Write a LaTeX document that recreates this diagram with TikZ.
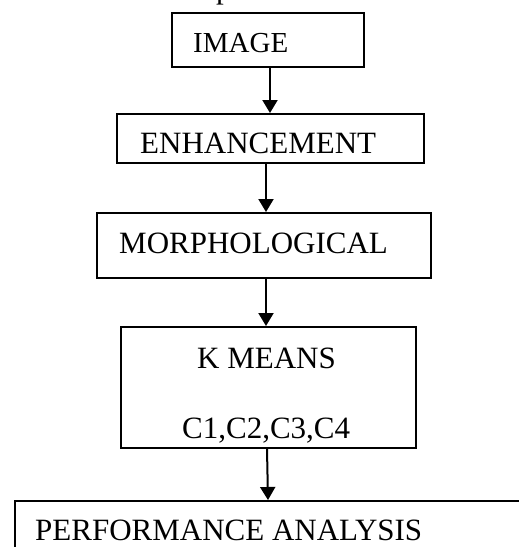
\documentclass[tikz,border=0pt]{standalone}
\usepackage{fontspec}
\setmainfont{Liberation Serif}
\usetikzlibrary{arrows.meta}
\begin{document}
\begin{tikzpicture}[x=1pt,y=-1pt,
  stagebox/.style={draw=black, line width=2pt, inner sep=0pt},
  lbl/.style={inner sep=0pt, anchor=base west, font=\fontsize{31}{36}\selectfont},
  arr/.style={line width=2pt, -{Triangle[width=15pt,length=13pt]}}]
\useasboundingbox (0,0) rectangle (519,547);
\fill[white] (0,0) rectangle (519,547);
\begin{scope}
\clip (0,0) rectangle (519,547);
% cut-off caption fragment at the top
\node[lbl] (frag) at (216,-1.5) {p};
% boxes
\node[stagebox, minimum width=192pt, minimum height=54pt] (img) at (268,40) {};
\node[stagebox, minimum width=307pt, minimum height=49pt] (enh) at (270.5,138.5) {};
\node[stagebox, minimum width=334pt, minimum height=65pt] (mor) at (264,245.5) {};
\node[stagebox, minimum width=295pt, minimum height=121pt] (kme) at (268,387.5) {};
\node[stagebox, minimum width=560pt, minimum height=90pt] (per) at (295,546) {};
% labels
\node[lbl, font=\fontsize{29}{34}\selectfont] (timg) at (193,52) {IMAGE};
\node[lbl] (tenh) at (140,153) {ENHANCEMENT};
\node[lbl] (tmor) at (119,253) {MORPHOLOGICAL};
\node[lbl] (tk1) at (197,368) {K MEANS};
\node[lbl] (tk2) at (182,438) {C1,C2,C3,C4};
\node[lbl] (tper) at (35,540) {PERFORMANCE ANALYSIS};
% connectors
\draw[arr] ([xshift=2pt]img.south) -- ([xshift=-0.5pt]enh.north);
\draw[arr] ([xshift=-4.5pt]enh.south) -- ([xshift=2pt]mor.north);
\draw[arr] ([xshift=2pt]mor.south) -- ([xshift=-2pt]kme.north);
\draw[arr] ([xshift=-1pt]kme.south) -- ([xshift=-27pt]per.north);
\end{scope}
\end{tikzpicture}
\end{document}
